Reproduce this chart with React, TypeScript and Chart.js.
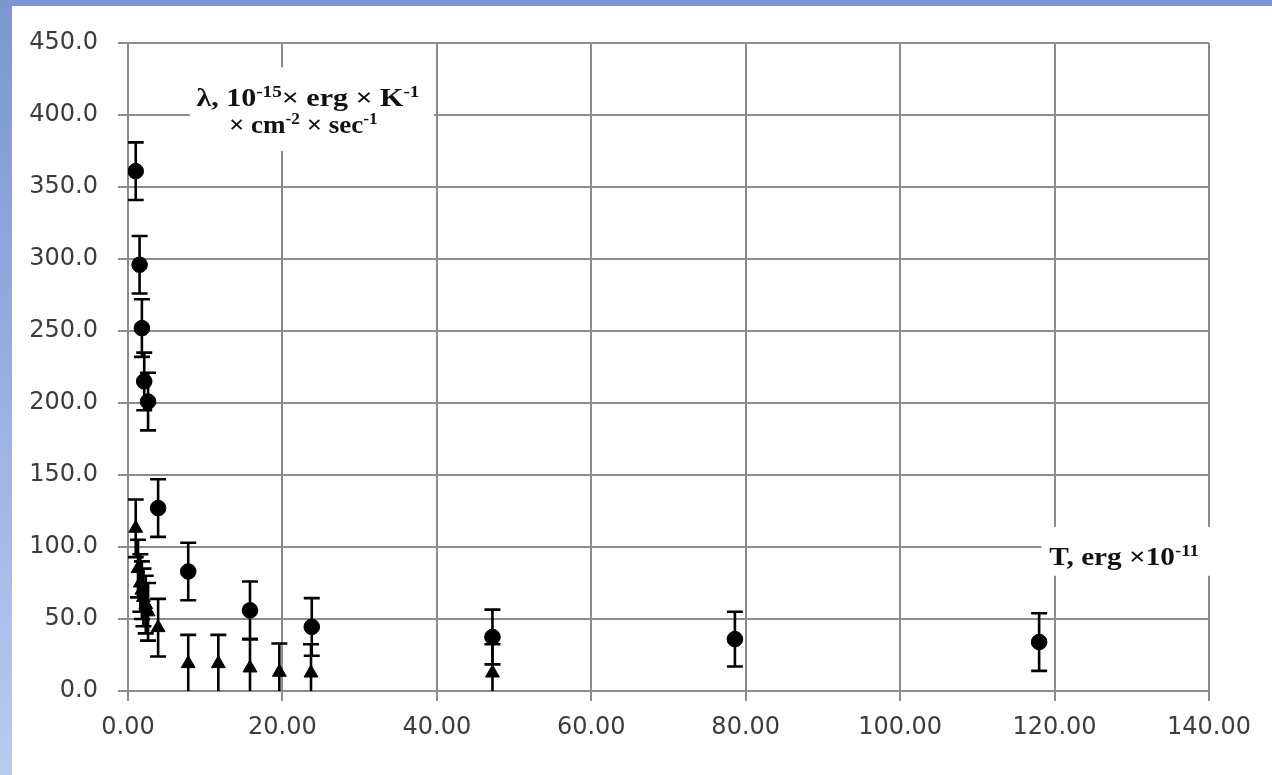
import React, { useEffect, useRef } from "react";
import { Chart, registerables } from "chart.js";
Chart.register(...registerables);

// Series 1 (circles)
const circleX = [1.0, 1.5, 1.8, 2.1, 2.6, 3.9, 7.8, 15.8, 23.8, 47.2, 78.6, 118.0];
const circleY = [361, 296, 252, 215, 201, 127, 83, 56, 44.5, 37.5, 36, 34];
const circleErr = [20, 20, 20, 20, 20, 20, 20, 20, 20, 19, 19, 20];

// Series 2 (triangles)
const triX = [1.0, 1.3, 1.6, 1.8, 2.0, 2.3, 2.6, 3.9, 7.8, 11.7, 15.8, 19.6, 23.7, 47.2];
const triY = [113, 85, 75, 70, 65, 60, 55, 44, 19, 19, 16, 13, 12.5, 12.5];
const triErr = [20, 20, 20, 20, 20, 20, 20, 20, 20, 20, 20, 20, 20, 20];

// Axes
const xMin = 0, xMax = 140, xStep = 20;
const yMin = 0, yMax = 450, yStep = 50;

// Annotation texts: [text, isSuperscript]
const yTitleLine1: [string, boolean][] = [["λ, 10", false], ["-15", true], ["× erg × K", false], ["-1", true]];
const yTitleLine2: [string, boolean][] = [["× cm", false], ["-2", true], [" × sec", false], ["-1", true]];
const xTitle: [string, boolean][] = [["T, erg ×10", false], ["-11", true]];

const GRID = "#8c8c8c";
const TICK_FONT = { family: "'DejaVu Sans', sans-serif", size: 24 };
const ANN_SIZE = 25;
const ANN_STRETCH = 1.2;

function richWidth(ctx: CanvasRenderingContext2D, segs: [string, boolean][], size: number) {
  let w = 0;
  for (const [t, sup] of segs) {
    ctx.font = `bold ${sup ? Math.round(size * 0.62) : size}px 'Liberation Serif', serif`;
    w += ctx.measureText(t).width;
  }
  return w;
}

function drawRich(ctx: CanvasRenderingContext2D, segs: [string, boolean][], x: number, baseline: number, size: number, stretch: number, align: "center" | "left") {
  ctx.save();
  const w = richWidth(ctx, segs, size) * stretch;
  const start = align === "center" ? x - w / 2 : x;
  ctx.translate(start, baseline);
  ctx.scale(stretch, 1);
  ctx.fillStyle = "#111";
  ctx.textBaseline = "alphabetic";
  ctx.textAlign = "left";
  let cx = 0;
  for (const [t, sup] of segs) {
    ctx.font = `bold ${sup ? Math.round(size * 0.62) : size}px 'Liberation Serif', serif`;
    ctx.fillText(t, cx, sup ? -size * 0.38 : 0);
    cx += ctx.measureText(t).width;
  }
  ctx.restore();
}

const annotationPlugin = {
  id: "annotations",
  beforeDatasetsDraw(chart: any) {
    const { ctx } = chart;
    const x = chart.scales.x;
    const y = chart.scales.y;
    ctx.save();
    ctx.fillStyle = "#ffffff";
    // left title box
    const l1 = x.getPixelForValue(8), r1 = x.getPixelForValue(39.6);
    const t1 = y.getPixelForValue(433), b1 = y.getPixelForValue(375);
    ctx.fillRect(l1, t1, r1 - l1, b1 - t1);
    // right title box
    const l2 = x.getPixelForValue(118.3), r2 = x.getPixelForValue(141);
    const t2 = y.getPixelForValue(114), b2 = y.getPixelForValue(80);
    ctx.fillRect(l2, t2, r2 - l2, b2 - t2);
    ctx.restore();

    drawRich(ctx, yTitleLine1, x.getPixelForValue(23.3), y.getPixelForValue(406), ANN_SIZE, ANN_STRETCH, "center");
    drawRich(ctx, yTitleLine2, x.getPixelForValue(22.7), y.getPixelForValue(387.5), ANN_SIZE, 1.08, "center");
    drawRich(ctx, xTitle, x.getPixelForValue(119.3), y.getPixelForValue(87.5), ANN_SIZE, 1.17, "left");

    // error bars
    const area = chart.chartArea;
    ctx.save();
    ctx.beginPath();
    ctx.rect(area.left, area.top, area.right - area.left, area.bottom - area.top);
    ctx.clip();
    ctx.strokeStyle = "#000";
    ctx.lineWidth = 2.6;
    const cap = 8;
    const series: [number[], number[], number[]][] = [
      [circleX, circleY, circleErr],
      [triX, triY, triErr],
    ];
    for (const [xs, ys, es] of series) {
      for (let i = 0; i < xs.length; i++) {
        const px = x.getPixelForValue(xs[i]);
        const top = y.getPixelForValue(ys[i] + es[i]);
        const bot = y.getPixelForValue(ys[i] - es[i]);
        ctx.beginPath();
        ctx.moveTo(px, top);
        ctx.lineTo(px, bot);
        ctx.moveTo(px - cap, top);
        ctx.lineTo(px + cap, top);
        ctx.moveTo(px - cap, bot);
        ctx.lineTo(px + cap, bot);
        ctx.stroke();
      }
    }
    ctx.restore();
  },
};

export default function App() {
  const ref = useRef<HTMLCanvasElement | null>(null);
  useEffect(() => {
    if (!ref.current) return;
    const chart = new Chart(ref.current, {
      type: "scatter",
      data: {
        datasets: [
          {
            label: "circles",
            data: circleX.map((v, i) => ({ x: v, y: circleY[i] })),
            pointStyle: "circle",
            pointRadius: 7.8,
            pointBackgroundColor: "#000",
            pointBorderColor: "#000",
            showLine: false,
          },
          {
            label: "triangles",
            data: triX.map((v, i) => ({ x: v, y: triY[i] })),
            pointStyle: "triangle",
            pointRadius: 8,
            pointBackgroundColor: "#000",
            pointBorderColor: "#000",
            showLine: false,
          },
        ],
      },
      options: {
        animation: false,
        responsive: false,
        events: [],
        layout: { padding: { left: 0, right: 63, top: 37, bottom: 0 } },
        plugins: { legend: { display: false }, tooltip: { enabled: false } },
        scales: {
          x: {
            type: "linear",
            min: xMin,
            max: xMax,
            afterFit: (s: any) => { s.height = 84; },
            grid: { color: GRID, lineWidth: 2, tickLength: 10, tickColor: GRID },
            border: { color: GRID, width: 2 },
            ticks: {
              stepSize: xStep,
              padding: 12,
              color: "#3c3c3c",
              font: TICK_FONT,
              maxRotation: 0,
              callback: (v: any) => Number(v).toFixed(2),
            },
          },
          y: {
            type: "linear",
            min: yMin,
            max: yMax,
            afterFit: (s: any) => { s.width = 116; },
            grid: { color: GRID, lineWidth: 2, tickLength: 10, tickColor: GRID },
            border: { color: GRID, width: 2 },
            ticks: {
              stepSize: yStep,
              padding: 20,
              color: "#3c3c3c",
              font: TICK_FONT,
              callback: (v: any) => Number(v).toFixed(1),
            },
          },
        },
      },
      plugins: [annotationPlugin],
    });
    return () => chart.destroy();
  }, []);

  return (
    <div
      style={{
        position: "fixed",
        left: 0,
        top: 0,
        width: 1272,
        height: 775,
        background: "linear-gradient(180deg, #7b96d0 0%, #96ade0 45%, #b8caf0 100%)",
      }}
    >
      <div style={{ position: "absolute", left: 12, top: 6, width: 1260, height: 769, background: "#fff" }}>
        <canvas ref={ref} width={1260} height={769} style={{ display: "block" }} />
      </div>
    </div>
  );
}
